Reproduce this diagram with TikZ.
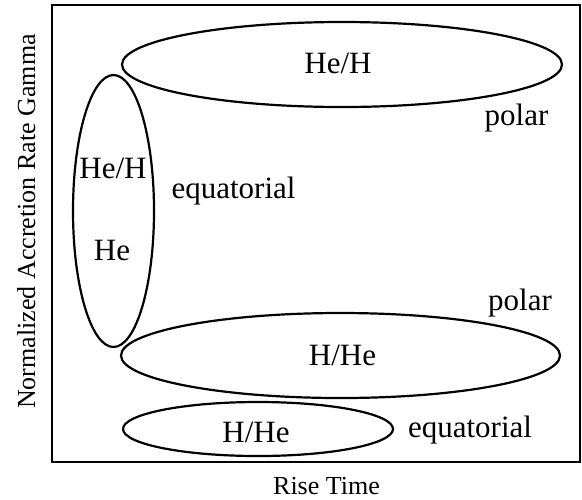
\documentclass[tikz,border=0pt]{standalone}
\usepackage{fontspec}
\setmainfont{Liberation Serif}
\usetikzlibrary{shapes.geometric}

\begin{document}
\begin{tikzpicture}[x=0.5pt, y=-0.5pt,
  every node/.style={font=\fontsize{15.5}{18}\selectfont, inner sep=0pt},
  region/.style={ellipse, draw, line width=1.1pt},
  tag/.style={anchor=base},
  axislabel/.style={anchor=base, font=\fontsize{13}{16}\selectfont}
]
\useasboundingbox (0,0) rectangle (582,499);
% plot frame
\draw[line width=1.3pt] (52,5) rectangle (580,462);
% burst regions
\node[region, minimum width=220pt, minimum height=42.5pt] (polarhe) at (342,64.5) {};
\node[region, minimum width=40.5pt, minimum height=136pt] (equathe) at (113.5,211) {};
\node[region, minimum width=219.5pt, minimum height=42.5pt] (polarh) at (340.5,355.5) {};
\node[region, minimum width=135pt, minimum height=27pt] (equath) at (258,429) {};
% labels inside the regions
\node[tag] (polarhetxt) at (338,73.3) {He/H};
\node[tag] (equathetxt) at (113,178) {He/H};
\node[tag] (equatpure) at (112,260) {He};
\node[tag] (polarhtxt) at (342.5,365) {H/He};
\node[tag] (equathtxt) at (256,442) {H/He};
% region kinds
\node[tag] (kindone) at (516.5,125) {polar};
\node[tag] (kindtwo) at (233.5,198) {equatorial};
\node[tag] (kindthree) at (520,310) {polar};
\node[tag] (kindfour) at (470,437) {equatorial};
% axes
\node[axislabel] (xlab) at (326.5,494) {Rise Time};
\node[axislabel, rotate=90] (ylab) at (35,221.5) {Normalized Accretion Rate Gamma};
\end{tikzpicture}
\end{document}
